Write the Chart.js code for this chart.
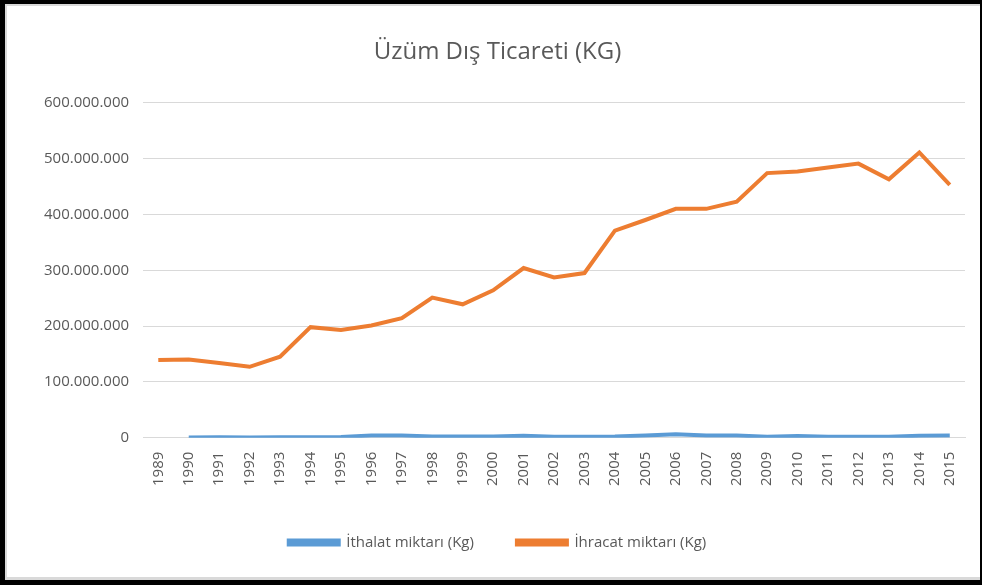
<!DOCTYPE html>
<html>
<head>
<meta charset="utf-8">
<script src="https://cdn.jsdelivr.net/npm/chart.js@4/dist/chart.umd.min.js"></script>
<style>
  html, body { margin: 0; padding: 0; background: #000; }
  #frame { position: absolute; left: 0; top: 0; width: 982px; height: 585px; background: #000; }
  #inner { position: absolute; left: 5px; top: 4px; width: 975px; height: 576px; background: #fff;
           box-sizing: border-box; border-left: 2px solid #d9d9d9; border-top: 2px solid #d9d9d9; border-bottom: 3px solid #d9d9d9; }
  #wrap { position: absolute; left: 0; top: 0; width: 973px; height: 571px; }
</style>
</head>
<body>
<div id="frame"><div id="inner"><div id="wrap"><canvas id="c"></canvas></div></div></div>
<script>
const years = ["1989","1990","1991","1992","1993","1994","1995","1996","1997","1998","1999","2000","2001","2002","2003","2004","2005","2006","2007","2008","2009","2010","2011","2012","2013","2014","2015"];
const ithalat = [null, 500000, 600000, 500000, 700000, 800000, 1200000, 4000000, 4000000, 2000000, 2000000, 2000000, 3500000, 1500000, 1500000, 2000000, 4000000, 6000000, 4000000, 4000000, 1500000, 3000000, 1500000, 1500000, 1500000, 3500000, 4000000];
const ihracat = [139000000, 140000000, 134000000, 127000000, 145000000, 198000000, 193000000, 201000000, 214000000, 251000000, 239000000, 264000000, 304000000, 287000000, 295000000, 371000000, 390000000, 410000000, 410000000, 423000000, 474000000, 477000000, 484000000, 491000000, 463000000, 511000000, 453000000];
const yTicks = [0, 100000000, 200000000, 300000000, 400000000, 500000000, 600000000];
const titleText = "Üzüm Dış Ticareti (KG)";
const seriesNames = ["İthalat miktarı (Kg)", "İhracat miktarı (Kg)"];

const FONT = "'Open Sans', sans-serif";
function fmt(v) { return String(v).replace(/\B(?=(\d{3})+(?!\d))/g, "."); }

new Chart(document.getElementById('c'), {
  type: 'line',
  data: {
    labels: years,
    datasets: [
      { label: seriesNames[0], data: ithalat, borderColor: '#5b9bd5', backgroundColor: '#5b9bd5', borderWidth: 4, pointRadius: 0, tension: 0 },
      { label: seriesNames[1], data: ihracat, borderColor: '#ed7d31', backgroundColor: '#ed7d31', borderWidth: 4, pointRadius: 0, tension: 0 }
    ]
  },
  options: {
    responsive: true,
    maintainAspectRatio: false,
    animation: false,
    layout: { padding: { left: 23, right: 15, top: 10, bottom: 17 } },
    plugins: {
      title: { display: true, text: titleText, color: '#595959', font: { family: FONT, size: 24, weight: 'normal' }, padding: { top: 22, bottom: 36 } },
      legend: { position: 'bottom', labels: { boxWidth: 50, boxHeight: 4, color: '#595959', font: { family: FONT, size: 15 }, padding: 43 } },
      tooltip: { enabled: false }
    },
    scales: {
      x: {
        offset: true,
        grid: { display: false },
        border: { color: '#d9d9d9' },
        ticks: { color: '#595959', font: { family: FONT, size: 15 }, minRotation: 90, maxRotation: 90, autoSkip: false, padding: 6 }
      },
      y: {
        min: 0, max: 600000000,
        afterBuildTicks: (axis) => { axis.ticks = yTicks.map(v => ({ value: v })); },
        grid: { color: '#d9d9d9', drawTicks: false, lineWidth: 1 },
        border: { display: false },
        ticks: { color: '#595959', font: { family: FONT, size: 15 }, padding: 14, callback: (v) => fmt(v) }
      }
    }
  }
});
</script>
</body>
</html>
